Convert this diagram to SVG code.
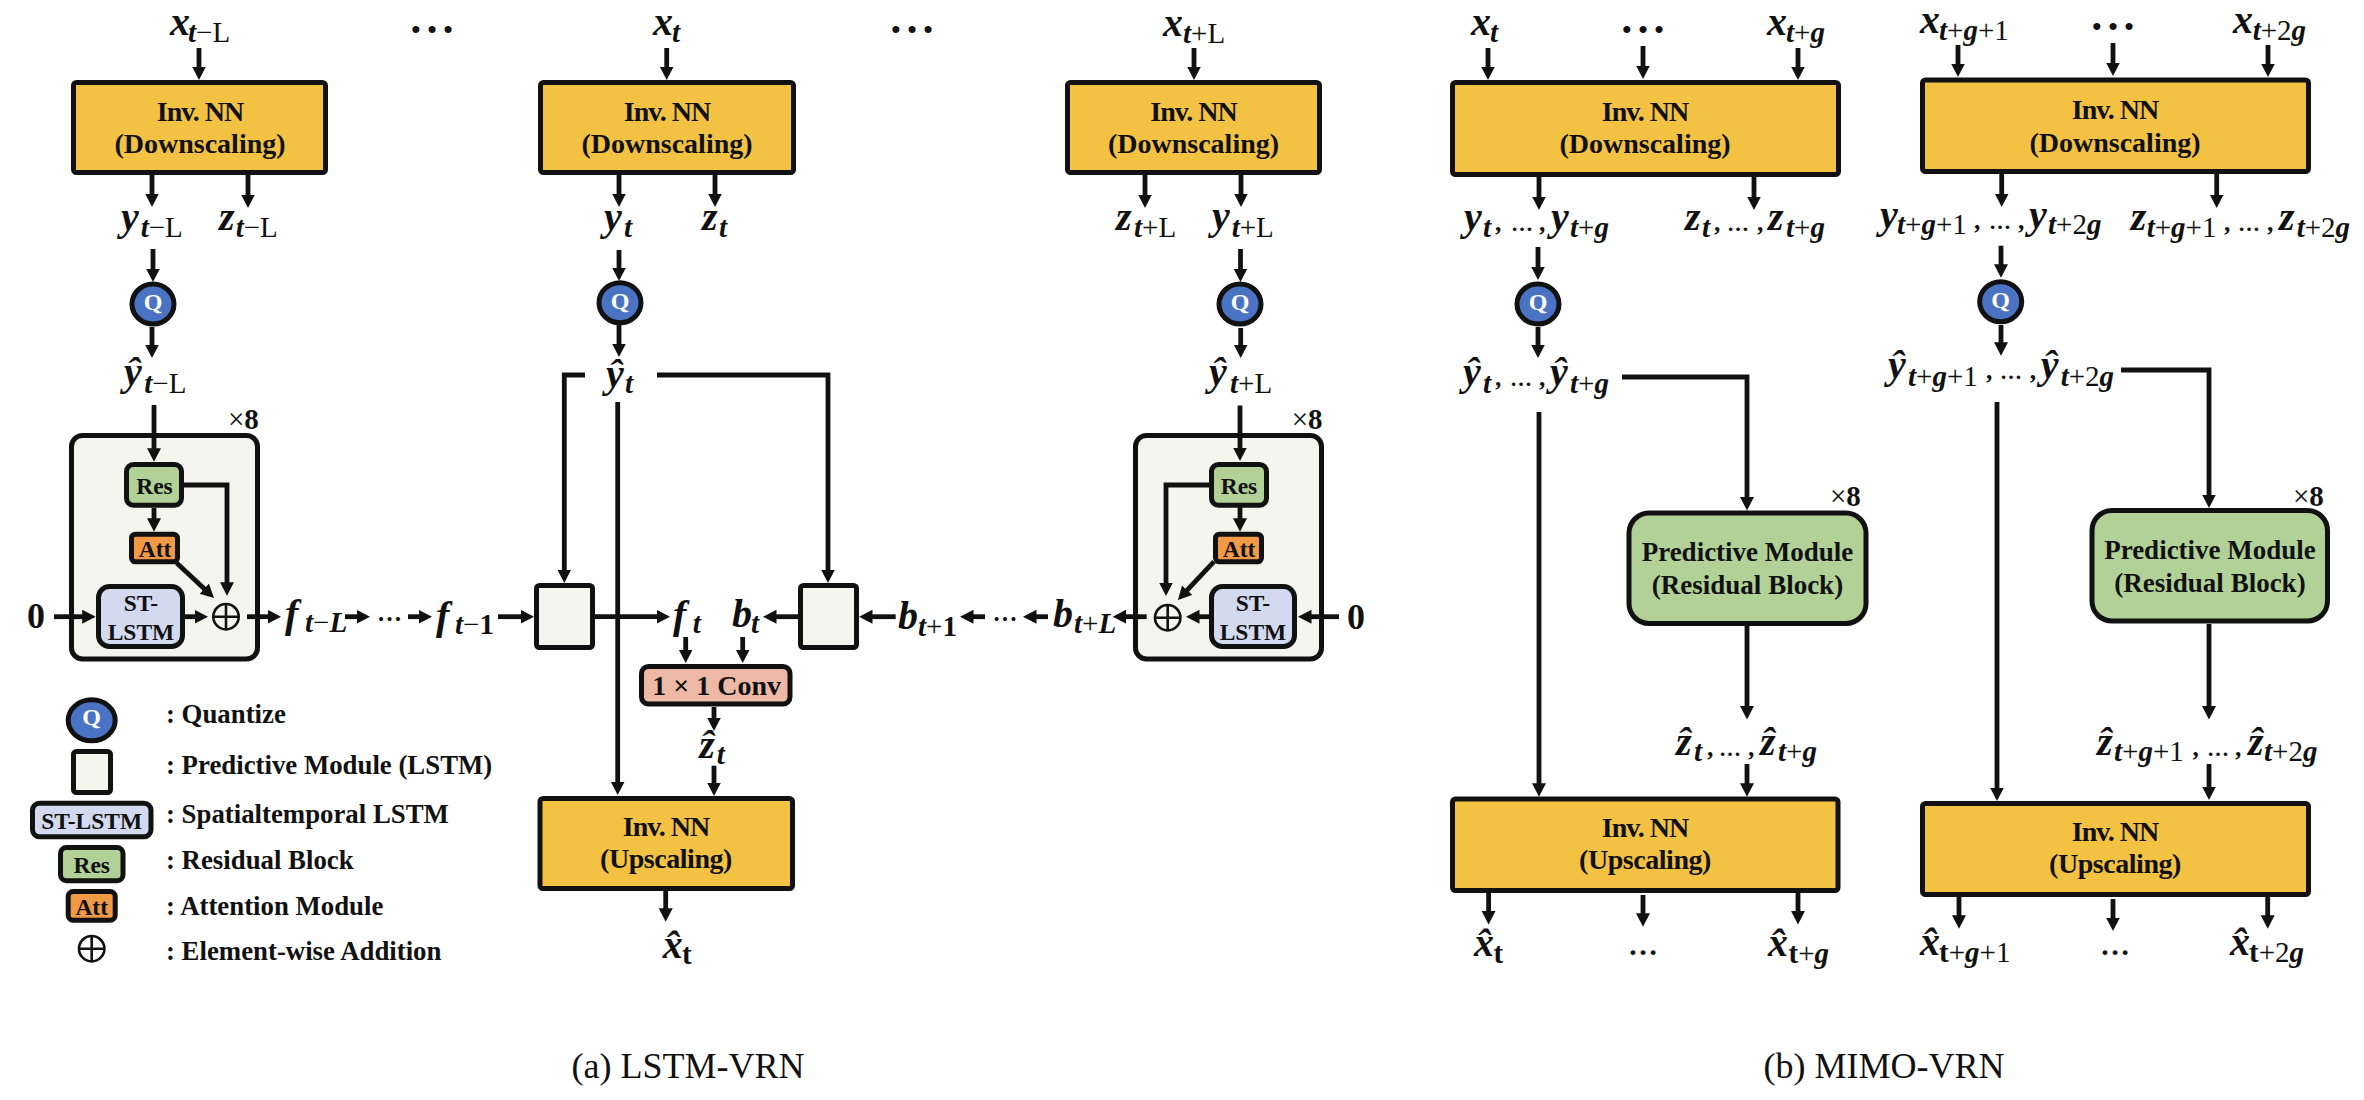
<svg xmlns="http://www.w3.org/2000/svg" width="2364" height="1100" viewBox="0 0 2364 1100">
<style>
text{font-family:"Liberation Serif","Times New Roman",serif;fill:#111}
.bx{stroke:#111;stroke-width:5}
.inv{fill:#F4C242}
.grey{fill:#F3F5EE}
.res{fill:#B1D197}
.att{fill:#F19A45}
.st{fill:#D3DAF0}
.qf{fill:#4A73C4}
.conv{fill:#EDB9A6}
.t28{font-size:28px;font-weight:bold;text-anchor:middle}
.iv{letter-spacing:-1px}
.up{letter-spacing:-.45px}
.pm{font-size:27px;font-weight:bold;text-anchor:middle}
.t24{font-size:23.5px;font-weight:bold;text-anchor:middle}
.qt{font-size:24px;font-weight:bold;text-anchor:middle;fill:#fff}
.leg{font-size:26.8px;font-weight:bold}
.cap{font-size:36px;text-anchor:middle}
.m{font-size:40px;font-weight:bold;font-style:italic}
.s{font-size:29px}
.r{font-weight:normal;font-style:normal}
.u{font-weight:bold;font-style:normal}
.c{font-size:26px}
.d{font-size:22px;font-style:normal}
.dot3{font-size:26px;font-weight:bold;text-anchor:middle;letter-spacing:7px}
.dot2{font-size:25px;font-weight:bold;text-anchor:middle}
.x8{font-size:29px;font-weight:bold}
.x8 tspan{font-weight:normal}
.zero{font-size:36px;font-weight:bold;text-anchor:middle}
.ln{fill:none;stroke:#111;stroke-width:4.8;marker-end:url(#a)}
.pl{fill:none;stroke:#111;stroke-width:2.6}
</style>
<defs>
<marker id="a" markerUnits="userSpaceOnUse" markerWidth="15" markerHeight="15" refX="3.5" refY="7" orient="auto"><path d="M0 0L13.5 7L0 14z" fill="#111"/></marker>
<g id="op"><circle r="12.7" class="pl"/><path d="M-12.7 0H12.7M0-12.7V12.7" class="pl"/></g>
</defs>
<rect width="2364" height="1100" fill="#fff"/>

<g id="inv-down-a1"><rect class="bx inv" x="73.5" y="82.5" width="252" height="90" rx="3"/><text class="t28 iv" x="200" y="121">Inv. NN</text><text class="t28" x="200" y="153">(Downscaling)</text></g>
<g id="inv-down-a2"><rect class="bx inv" x="540.5" y="82.5" width="253" height="90" rx="3"/><text class="t28 iv" x="667" y="121">Inv. NN</text><text class="t28" x="667" y="153">(Downscaling)</text></g>
<g id="inv-down-a3"><rect class="bx inv" x="1067.5" y="82.5" width="252" height="90" rx="3"/><text class="t28 iv" x="1193.5" y="121">Inv. NN</text><text class="t28" x="1193.5" y="153">(Downscaling)</text></g>
<g id="inv-up-a"><rect class="bx inv" x="540" y="798.5" width="252.5" height="90" rx="3"/><text class="t28 iv" x="666" y="836">Inv. NN</text><text class="t28 up" x="666" y="868">(Upscaling)</text></g>
<g id="inv-down-b1"><rect class="bx inv" x="1452.5" y="82.5" width="386" height="92" rx="3"/><text class="t28 iv" x="1645" y="121">Inv. NN</text><text class="t28" x="1645" y="153">(Downscaling)</text></g>
<g id="inv-down-b2"><rect class="bx inv" x="1922.5" y="80" width="386" height="91.5" rx="3"/><text class="t28 iv" x="2115" y="119">Inv. NN</text><text class="t28" x="2115" y="151.5">(Downscaling)</text></g>
<g id="inv-up-b1"><rect class="bx inv" x="1452.5" y="799" width="385.5" height="91.5" rx="3"/><text class="t28 iv" x="1645" y="836.5">Inv. NN</text><text class="t28 up" x="1645" y="868.7">(Upscaling)</text></g>
<g id="inv-up-b2"><rect class="bx inv" x="1922.5" y="803.5" width="386" height="91" rx="3"/><text class="t28 iv" x="2115" y="841">Inv. NN</text><text class="t28 up" x="2115" y="873">(Upscaling)</text></g>

<g id="q-a1"><ellipse class="bx qf" cx="153" cy="304" rx="21" ry="20"/><text class="qt" x="153" y="310">Q</text></g>
<g id="q-a2"><ellipse class="bx qf" cx="620" cy="302.7" rx="21" ry="20"/><text class="qt" x="620" y="309">Q</text></g>
<g id="q-a3"><ellipse class="bx qf" cx="1240" cy="304" rx="21" ry="20"/><text class="qt" x="1240" y="310">Q</text></g>
<g id="q-b1"><ellipse class="bx qf" cx="1538" cy="304" rx="21" ry="20"/><text class="qt" x="1538" y="310">Q</text></g>
<g id="q-b2"><ellipse class="bx qf" cx="2000.7" cy="301.7" rx="21" ry="20"/><text class="qt" x="2000.7" y="308">Q</text></g>

<g id="block-left"><rect class="bx grey" x="71.5" y="435.5" width="186" height="223.5" rx="11"/>
<text class="x8" x="228" y="428.5"><tspan>×</tspan>8</text>
<rect class="bx res" x="126.5" y="464.5" width="55" height="40.7" rx="7"/><text class="t24" x="154.5" y="494">Res</text>
<rect class="bx att" x="131.5" y="534.2" width="46" height="27.6" rx="4"/><text class="t24" x="155" y="556.7">Att</text>
<rect class="bx st" x="98.5" y="586.5" width="84" height="60" rx="11"/><text class="t24" x="141" y="611">ST-</text><text class="t24" x="141" y="640">LSTM</text>
<use href="#op" x="226" y="616.7"/>
</g>
<g id="block-right"><rect class="bx grey" x="1135.5" y="435.5" width="186" height="223.5" rx="11"/>
<text class="x8" x="1291.7" y="429"><tspan>×</tspan>8</text>
<rect class="bx res" x="1211.5" y="464.5" width="55" height="40.7" rx="7"/><text class="t24" x="1239" y="494">Res</text>
<rect class="bx att" x="1215.5" y="534.2" width="46" height="27.6" rx="4"/><text class="t24" x="1239" y="557">Att</text>
<rect class="bx st" x="1211.5" y="586.5" width="83" height="60" rx="11"/><text class="t24" x="1253" y="611">ST-</text><text class="t24" x="1253" y="640">LSTM</text>
<use href="#op" x="1167.7" y="617.7"/>
</g>
<g id="lstm-f"><rect class="bx grey" x="536.5" y="585.5" width="56" height="62" rx="3"/></g>
<g id="lstm-b"><rect class="bx grey" x="800.5" y="585.5" width="56" height="62" rx="3"/></g>
<g id="conv"><rect class="bx conv" x="641.5" y="666.5" width="148.5" height="37.5" rx="7"/><text class="t28" x="716.7" y="695">1 × 1 Conv</text></g>
<g id="pm-1"><rect class="bx res" x="1629" y="513" width="237" height="110.5" rx="20"/><text class="x8" x="1830" y="506"><tspan>×</tspan>8</text><text class="pm" x="1747.5" y="561">Predictive Module</text><text class="pm" x="1747.5" y="594">(Residual Block)</text></g>
<g id="pm-2"><rect class="bx res" x="2092" y="510.5" width="235.5" height="110.5" rx="20"/><text class="x8" x="2293" y="506"><tspan>×</tspan>8</text><text class="pm" x="2210" y="559">Predictive Module</text><text class="pm" x="2210" y="592">(Residual Block)</text></g>

<g id="connectors">
<path class="ln" d="M199 48V70"/><path class="ln" d="M152 175V197"/><path class="ln" d="M248 175V198"/><path class="ln" d="M153 249V272"/><path class="ln" d="M152 327V348"/><path class="ln" d="M154 405V451.7"/><path class="ln" d="M154 508V521.7"/><path class="ln" d="M184 485H227V585.7"/><path class="ln" d="M176.7 563L206.7 591.1"/><path class="ln" d="M54 616.7H85.7"/><path class="ln" d="M185 616.7H198"/><path class="ln" d="M247 616.7H271"/><path class="ln" d="M345 616.7H360"/><path class="ln" d="M408 616.7H422"/><path class="ln" d="M498 616.7H524"/>
<path class="ln" d="M666.7 48V70"/><path class="ln" d="M619 175V197"/><path class="ln" d="M715 175V197"/><path class="ln" d="M619 250V271"/><path class="ln" d="M619 325V347"/><path class="ln" d="M585 375H564.3V573"/><path class="ln" d="M657 375H828V573"/><path class="ln" d="M617.7 402V785"/><path class="ln" d="M595 616.7H660"/><path class="ln" d="M798 616.7H773"/><path class="ln" d="M895.7 616.7H869"/><path class="ln" d="M985 616.7H970"/><path class="ln" d="M685.7 637V653"/><path class="ln" d="M742.7 637V653"/><path class="ln" d="M714 707V721"/><path class="ln" d="M714 765.7V786"/><path class="ln" d="M665.7 891V911.7"/>
<path class="ln" d="M1194 48V70"/><path class="ln" d="M1145 175V198"/><path class="ln" d="M1241 175V197"/><path class="ln" d="M1240.5 249V272"/><path class="ln" d="M1240.7 328V348"/><path class="ln" d="M1240 405.5V451"/><path class="ln" d="M1240 507V521.7"/><path class="ln" d="M1209 485H1166V586"/><path class="ln" d="M1214 561.7L1184.8 592.7"/><path class="ln" d="M1209 616.7H1196"/><path class="ln" d="M1339 616.7H1308"/><path class="ln" d="M1146.7 616.7H1122.7"/><path class="ln" d="M1048 616.7H1033"/>
<path class="ln" d="M1488 48V70"/><path class="ln" d="M1643 46V69"/><path class="ln" d="M1798 48V70"/><path class="ln" d="M1539 177V200"/><path class="ln" d="M1754 177V200"/><path class="ln" d="M1538 247V270"/><path class="ln" d="M1538 327V348"/><path class="ln" d="M1622 377H1747V500.5"/><path class="ln" d="M1539 412V786.7"/><path class="ln" d="M1747 626V709.5"/><path class="ln" d="M1747 764V786.7"/><path class="ln" d="M1488.6 893V914.4"/><path class="ln" d="M1643 895V916.8"/><path class="ln" d="M1798 893V914.4"/>
<path class="ln" d="M1958 45V67"/><path class="ln" d="M2113 43V66"/><path class="ln" d="M2268 45V67"/><path class="ln" d="M2001.7 174V197"/><path class="ln" d="M2216.7 174V198"/><path class="ln" d="M2001 245.7V267.7"/><path class="ln" d="M2001 325V345.7"/><path class="ln" d="M2121 370H2209V498"/><path class="ln" d="M1997 402V791"/><path class="ln" d="M2209 624V709.5"/><path class="ln" d="M2209 764V790"/><path class="ln" d="M1959 897V918.7"/><path class="ln" d="M2113 899V921"/><path class="ln" d="M2267.7 897V918.7"/>
</g>

<g id="labels-a">
<text class="zero" x="36" y="628">0</text>
<text class="zero" x="1356" y="629">0</text>
<text class="dot3" x="435.5" y="38">•••</text>
<text class="dot3" x="915.5" y="38">•••</text>
<text class="dot2" x="389.5" y="621">…</text>
<text class="dot2" x="1005" y="621">…</text>
<text class="m" x="170" y="35">x<tspan class="s" x="188" y="42">t<tspan class="r">−L</tspan></tspan></text>
<text class="m" x="121" y="230">y<tspan class="s" x="140.7" y="237">t<tspan class="r">−L</tspan></tspan></text>
<text class="m" x="219" y="230">z<tspan class="s" x="235.7" y="237">t<tspan class="r">−L</tspan></tspan></text>
<text class="m" x="124" y="385">y&#770;<tspan class="s" x="144.3" y="393">t<tspan class="r">−L</tspan></tspan></text>
<text class="m" x="285" y="627">f<tspan class="s" x="305" y="632">t<tspan class="r">−</tspan>L</tspan></text>
<text class="m" x="436" y="629">f<tspan class="s" x="455" y="634">t<tspan class="r">−</tspan><tspan class="u">1</tspan></tspan></text>
<text class="m" x="653" y="35">x<tspan class="s" x="672" y="42">t</tspan></text>
<text class="m" x="604" y="230">y<tspan class="s" x="624" y="237">t</tspan></text>
<text class="m" x="702" y="230">z<tspan class="s" x="719" y="237">t</tspan></text>
<text class="m" x="606" y="387">y&#770;<tspan class="s" x="625" y="393">t</tspan></text>
<text class="m" x="673" y="628">f<tspan class="s" x="692.7" y="633">t</tspan></text>
<text class="m" x="732" y="627">b<tspan class="s" x="751" y="633">t</tspan></text>
<text class="m" x="898" y="629">b<tspan class="s" x="918" y="636">t<tspan class="r">+</tspan><tspan class="u">1</tspan></tspan></text>
<text class="m" x="699.3" y="758">z&#770;<tspan class="s" x="716.7" y="764">t</tspan></text>
<text class="m" x="662.7" y="958">x&#770;<tspan class="s u" x="682" y="964">t</tspan></text>
<text class="m" x="1163" y="35.6">x<tspan class="s" x="1183" y="43">t<tspan class="r">+L</tspan></tspan></text>
<text class="m" x="1212" y="229">y<tspan class="s" x="1231.7" y="237">t<tspan class="r">+L</tspan></tspan></text>
<text class="m" x="1116" y="230">z<tspan class="s" x="1134" y="237">t<tspan class="r">+L</tspan></tspan></text>
<text class="m" x="1209" y="385">y&#770;<tspan class="s" x="1230" y="393">t<tspan class="r">+L</tspan></tspan></text>
<text class="m" x="1053" y="627">b<tspan class="s" x="1074" y="633">t<tspan class="r">+</tspan>L</tspan></text>
</g>

<g id="labels-b">
<text class="m" x="1471" y="35">x<tspan class="s" x="1490" y="42">t</tspan></text>
<text class="dot3" x="1646.5" y="38">•••</text>
<text class="m" x="1767" y="35">x<tspan class="s" x="1786" y="42">t<tspan class="r">+</tspan>g</tspan></text>
<text class="m" x="1464" y="230">y<tspan class="s" x="1483" y="237">t</tspan><tspan class="c" x="1496" y="231">,</tspan><tspan class="d" x="1511" y="231">…</tspan><tspan class="c" x="1540" y="231">,</tspan><tspan x="1551" y="230">y</tspan><tspan class="s" x="1570" y="237">t<tspan class="r">+</tspan>g</tspan></text>
<text class="m" x="1685" y="230">z<tspan class="s" x="1702" y="237">t</tspan><tspan class="c" x="1715" y="231">,</tspan><tspan class="d" x="1727" y="231">…</tspan><tspan class="c" x="1758" y="231">,</tspan><tspan x="1768" y="230">z</tspan><tspan class="s" x="1786" y="237">t<tspan class="r">+</tspan>g</tspan></text>
<text class="m" x="1463" y="385">y&#770;<tspan class="s" x="1483" y="393">t</tspan><tspan class="c" x="1496" y="386">,</tspan><tspan class="d" x="1510" y="386">…</tspan><tspan class="c" x="1540" y="386">,</tspan><tspan x="1550" y="385">y&#770;</tspan><tspan class="s" x="1570" y="393">t<tspan class="r">+</tspan>g</tspan></text>
<text class="m" x="1676" y="755">z&#770;<tspan class="s" x="1694" y="761">t</tspan><tspan class="c" x="1708" y="756">,</tspan><tspan class="d" x="1719" y="756">…</tspan><tspan class="c" x="1749" y="756">,</tspan><tspan x="1760" y="755">z&#770;</tspan><tspan class="s" x="1778" y="761">t<tspan class="r">+</tspan>g</tspan></text>
<text class="m" x="1474" y="956">x&#770;<tspan class="s u" x="1493.5" y="962.6">t</tspan></text>
<text class="dot2" style="font-size:30px" x="1643" y="955">…</text>
<text class="m" x="1768" y="956">x&#770;<tspan class="s" x="1788.5" y="962.6"><tspan class="u">t</tspan><tspan class="r">+</tspan>g</tspan></text>

<text class="m" x="1920" y="32.7">x<tspan class="s" x="1939" y="40">t<tspan class="r">+</tspan>g<tspan class="r">+1</tspan></tspan></text>
<text class="dot3" x="2116.5" y="34.5">•••</text>
<text class="m" x="2233" y="32.7">x<tspan class="s" x="2252.7" y="40">t<tspan class="r">+2</tspan>g</tspan></text>
<text class="m" x="1880" y="227.7">y<tspan class="s" x="1897" y="234">t<tspan class="r">+</tspan>g<tspan class="r">+1</tspan></tspan><tspan class="c" x="1975" y="229">,</tspan><tspan class="d" x="1989" y="229">…</tspan><tspan class="c" x="2019" y="229">,</tspan><tspan x="2029" y="227.7">y</tspan><tspan class="s" x="2048" y="234">t<tspan class="r">+2</tspan>g</tspan></text>
<text class="m" x="2130.7" y="230">z<tspan class="s" x="2146.7" y="237">t<tspan class="r">+</tspan>g<tspan class="r">+1</tspan></tspan><tspan class="c" x="2225" y="231">,</tspan><tspan class="d" x="2238" y="231">…</tspan><tspan class="c" x="2268" y="231">,</tspan><tspan x="2279" y="230">z</tspan><tspan class="s" x="2296.7" y="237">t<tspan class="r">+2</tspan>g</tspan></text>
<text class="m" x="1888" y="378">y&#770;<tspan class="s" x="1908" y="386">t<tspan class="r">+</tspan>g<tspan class="r">+1</tspan></tspan><tspan class="c" x="1987" y="379">,</tspan><tspan class="d" x="2000" y="379">…</tspan><tspan class="c" x="2030.7" y="379">,</tspan><tspan x="2040.7" y="378">y&#770;</tspan><tspan class="s" x="2060.7" y="386">t<tspan class="r">+2</tspan>g</tspan></text>
<text class="m" x="2097" y="755">z&#770;<tspan class="s" x="2114" y="761">t<tspan class="r">+</tspan>g<tspan class="r">+1</tspan></tspan><tspan class="c" x="2193.6" y="756">,</tspan><tspan class="d" x="2207" y="756">…</tspan><tspan class="c" x="2236" y="756">,</tspan><tspan x="2248" y="755">z&#770;</tspan><tspan class="s" x="2264" y="761">t<tspan class="r">+2</tspan>g</tspan></text>
<text class="m" x="1920" y="955">x&#770;<tspan class="s" x="1939" y="961.6"><tspan class="u">t</tspan><tspan class="r">+</tspan>g<tspan class="r">+1</tspan></tspan></text>
<text class="dot2" style="font-size:30px" x="2115" y="955">…</text>
<text class="m" x="2230" y="955">x&#770;<tspan class="s" x="2249" y="961.6"><tspan class="u">t</tspan><tspan class="r">+2</tspan>g</tspan></text>
</g>

<g id="legend">
<g id="leg-q"><ellipse class="bx qf" cx="91.7" cy="720.3" rx="23.5" ry="20.5"/><text class="qt" x="91.7" y="725">Q</text><text class="leg" x="166" y="723.3">: Quantize</text></g>
<g id="leg-pm"><rect class="bx grey" x="73.5" y="751.5" width="37" height="41" rx="3"/><text class="leg" x="166" y="774.3">: Predictive Module (LSTM)</text></g>
<g id="leg-st"><rect class="bx st" x="32.5" y="803.2" width="118.5" height="33.5" rx="7"/><text class="t24" x="91.7" y="829">ST-LSTM</text><text class="leg" x="166" y="823.3">: Spatialtemporal LSTM</text></g>
<g id="leg-res"><rect class="bx res" x="60.5" y="847.5" width="62.5" height="33.3" rx="6"/><text class="t24" x="91.7" y="873.3">Res</text><text class="leg" x="166" y="869.3">: Residual Block</text></g>
<g id="leg-att"><rect class="bx att" x="68.2" y="891.5" width="47" height="28.7" rx="5"/><text class="t24" x="91.7" y="915">Att</text><text class="leg" x="166" y="915">: Attention Module</text></g>
<g id="leg-add"><use href="#op" x="91.7" y="948.7"/><text class="leg" x="166" y="960">: Element-wise Addition</text></g>
</g>
<text class="cap" x="688" y="1078">(a) LSTM-VRN</text>
<text class="cap" x="1884" y="1078">(b) MIMO-VRN</text>
</svg>
